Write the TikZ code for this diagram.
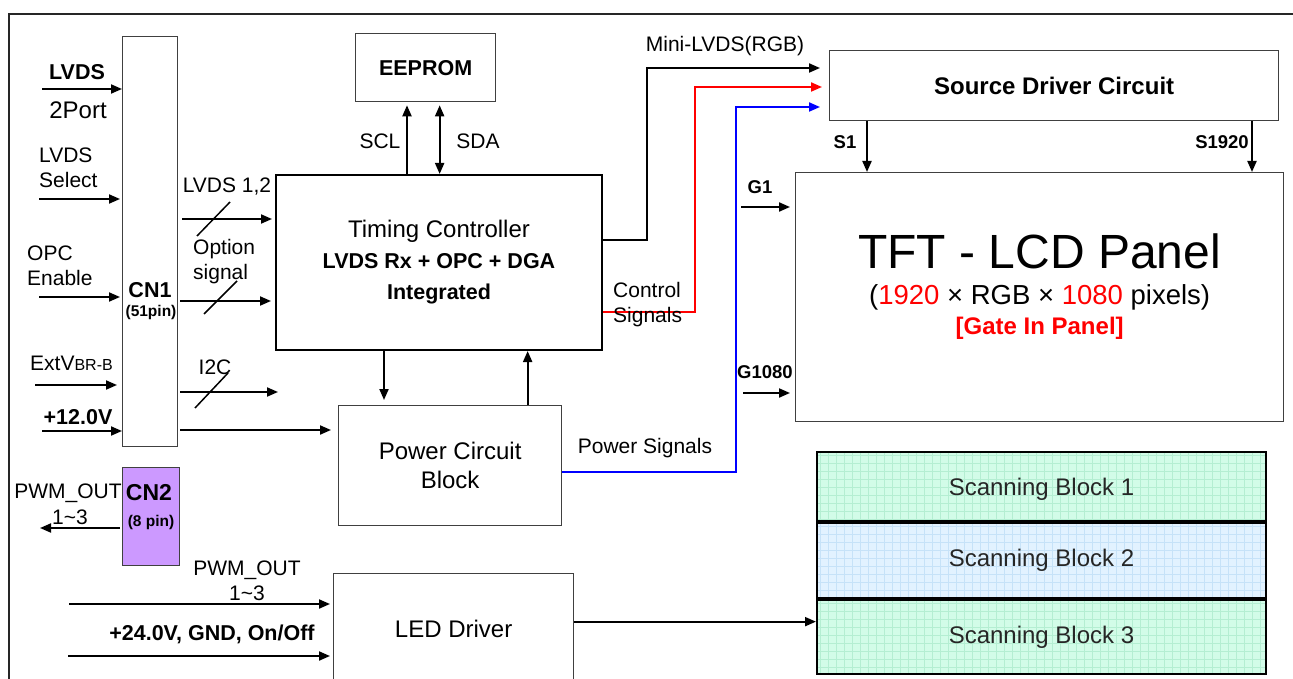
\documentclass[tikz,border=0pt]{standalone}
\usepackage{fontspec}
\setmainfont{Liberation Sans}
\usetikzlibrary{positioning,arrows.meta,calc}
\definecolor{cPinFill}{HTML}{CC99FF}
\definecolor{cScanGreen}{HTML}{D2FCE8}
\definecolor{cScanBlue}{HTML}{E2F2FF}
\definecolor{cGridGreen}{HTML}{B4EED2}
\definecolor{cGridBlue}{HTML}{C6E2F8}
\definecolor{cBoxLine}{HTML}{404040}
\newcommand{\lblfont}{\fontsize{21}{25}\selectfont}
\newcommand{\blkfont}{\fontsize{24}{29}\selectfont}
\newcommand{\blkbold}{\fontsize{24}{29}\selectfont\bfseries}
\newcommand{\boldlbl}{\fontsize{21.5}{26}\selectfont\bfseries}
\newcommand{\pinfont}{\fontsize{15.5}{18}\selectfont\bfseries}
\newcommand{\sigfont}{\fontsize{18.5}{22}\selectfont\bfseries}
\newcommand{\panelfont}{\fontsize{48}{56}\selectfont}

\begin{document}
\begin{tikzpicture}[
  x=1pt, y=-1pt,
  every node/.style={inner sep=0pt},
  blk/.style={draw=cBoxLine, line width=1.3pt, fill=white, anchor=north west},
  scanbox/.style={draw=black, line width=2pt, anchor=north west, minimum width=449pt,
                  font=\blkfont, text=black!85},
  scangreen/.style={scanbox, fill=cScanGreen, path picture={
      \draw[cGridGreen, line width=0.6pt, step=8pt]
        (path picture bounding box.south west) grid (path picture bounding box.north east);}},
  scanblue/.style={scanbox, fill=cScanBlue, path picture={
      \draw[cGridBlue, line width=0.6pt, step=8pt]
        (path picture bounding box.south west) grid (path picture bounding box.north east);}},
  lbl/.style={font=\lblfont},
  arr/.style={-{Triangle[length=11pt,width=9pt]}, line width=2pt},
  dblarr/.style={{Triangle[length=11pt,width=9pt]}-{Triangle[length=11pt,width=9pt]}, line width=2pt},
  busmark/.style={line width=1.5pt},
]
  \useasboundingbox (0,0) rectangle (1293,679);
  % outer frame
  \draw[line width=2pt, black!85] (9,690) -- (9,14) -- (1300,14);

  % blocks
  \node[blk, minimum width=140pt, minimum height=68pt, font=\boldlbl] (eeprom) at (355,33) {EEPROM};
  \node[blk, draw=black, line width=2pt, minimum width=326pt, minimum height=175pt,
        align=center, font=\boldlbl] (tcon) at (275,174)
        {{\blkfont\mdseries Timing Controller}\\[5pt] LVDS Rx + OPC + DGA\\[5pt] Integrated};
  \node[blk, minimum width=223pt, minimum height=120pt, align=center, font=\blkfont] (pcb) at (338,405)
        {Power Circuit\\Block};
  \node[blk, minimum width=240pt, minimum height=110pt, font=\blkfont] (led) at (333,573) {LED Driver};
  \node[blk, minimum width=449pt, minimum height=70pt, font=\blkbold] (sdc) at (829,50) {Source Driver Circuit};
  \node[blk, minimum width=488pt, minimum height=249pt] (tft) at (795,172) {};
  \node[blk, minimum width=55pt, minimum height=410pt] (cn1) at (122,36) {};
  \node[blk, fill=cPinFill, minimum width=57pt, minimum height=98pt] (cn2) at (122,467) {};

  \node[scangreen, minimum height=69pt, text depth=-7pt] (sb1) at (816,451) {Scanning Block 1};
  \node[scanblue, minimum height=75pt, below=0pt of sb1] (sb2) {Scanning Block 2};
  \node[scangreen, minimum height=74pt, below=0pt of sb2] (sb3) {Scanning Block 3};

  % panel text
  \node[font=\panelfont] (tftName) at ($(tft.north)+(0,79)$) {TFT - LCD Panel};
  \node[font=\fontsize{27.5}{31}\selectfont] (tftRes) at ($(tft.north)+(0,125)$)
        {(\textcolor{red}{1920} × RGB × \textcolor{red}{1080} pixels)};
  \node[font=\blkbold, text=red] (tftGip) at ($(tft.north)+(0,156)$) {[Gate In Panel]};

  % connector labels
  \node[font=\boldlbl] (cn1Name) at (150,290) {CN1};
  \node[font=\pinfont] (cn1Pins) at (151,312) {(51pin)};
  \node[font=\fontsize{23}{27}\selectfont\bfseries] (cn2Name) at (149,493) {CN2};
  \node[font=\pinfont] (cn2Pins) at (151,522) {(8 pin)};

  % left inputs
  \node[font=\boldlbl] (lvdsLbl) at (77,72) {LVDS};
  \node[font=\blkfont] (portLbl) at (78,110) {2Port};
  \node[lbl, align=left, anchor=west] (selLbl) at (39,168) {LVDS\\Select};
  \node[lbl, align=left, anchor=west] (opcLbl) at (27,266) {OPC\\Enable};
  \node[lbl, anchor=west] (extLbl) at (30,363) {ExtV{\fontsize{16}{18}\selectfont BR-B}};
  \node[font=\boldlbl] (v12Lbl) at (78,417) {+12.0V};

  \coordinate (lvdsIn) at (42,89);
  \coordinate (selIn) at (39,199);
  \coordinate (opcIn) at (39,297);
  \coordinate (extIn) at (35,385);
  \coordinate (v12In) at (42,431);
  \draw[arr] (lvdsIn) -- (lvdsIn -| cn1.west);
  \draw[arr, shorten >=2pt] (selIn) -- (selIn -| cn1.west);
  \draw[arr, shorten >=2pt] (opcIn) -- (opcIn -| cn1.west);
  \draw[arr, shorten >=5pt] (extIn) -- (extIn -| cn1.west);
  \draw[arr] (v12In) -- (v12In -| cn1.west);

  % CN1 to timing controller / power
  \coordinate (lvdsBus) at (182,219);
  \coordinate (optBus) at (180,301);
  \coordinate (i2cBus) at (180,392);
  \coordinate (i2cEnd) at (278,392);
  \coordinate (v12Bus) at (180,430);
  \draw[arr, shorten >=3pt] (lvdsBus) -- (lvdsBus -| tcon.west);
  \draw[busmark] ($(lvdsBus)+(15,17)$) -- ++(33,-34);
  \draw[arr, shorten >=4pt] (optBus) -- (optBus -| tcon.west);
  \draw[busmark] ($(optBus)+(24,13)$) -- ++(33,-33);
  \draw[arr] (i2cBus) -- (i2cEnd);
  \draw[busmark] ($(i2cBus)+(15,16)$) -- ++(33,-35);
  \draw[arr, shorten >=7pt] (v12Bus) -- (v12Bus -| pcb.west);
  \node[lbl] (lvdsBusLbl) at (227,187) {LVDS 1,2};
  \node[lbl, align=left, anchor=west] (optLbl) at (193,262) {Option\\signal};
  \node[lbl] (i2cLbl) at (215,367) {I2C};

  % eeprom bus
  \coordinate (sclPt) at ($(tcon.north)+(-32,2)$);
  \coordinate (sdaPt) at ($(eeprom.south)+(14,3)$);
  \draw[arr, shorten >=3pt] (sclPt) -- (sclPt |- eeprom.south);
  \draw[dblarr] (sdaPt) -- (sdaPt |- tcon.north);
  \node[lbl] (sclLbl) at (380,141) {SCL};
  \node[lbl] (sdaLbl) at (478,141) {SDA};

  % timing controller <-> power circuit
  \coordinate (tcDown) at ($(tcon.south)+(-55,0)$);
  \coordinate (pcUp) at ($(pcb.north)+(77.5,0)$);
  \draw[arr, shorten >=5pt] (tcDown) -- (tcDown |- pcb.north);
  \draw[arr] (pcUp) -- (pcUp |- tcon.south);

  % signals to source driver
  \coordinate (miniOut) at ($(tcon.north east)+(0,66)$);
  \coordinate (ctrlOut) at ($(tcon.south east)+(0,-39)$);
  \coordinate (pwrOut) at ($(pcb.east)+(0,6)$);
  \draw[arr, shorten >=9pt] (miniOut) -- ++(44,0) |- ($(sdc.north west)+(0,18)$);
  \draw[arr, red, shorten >=7pt] (ctrlOut) -- ++(92,0) |- ($(sdc.north west)+(0,37)$);
  \draw[arr, blue, shorten >=9pt] (pwrOut) -- ++(174,0) |- ($(sdc.north west)+(0,57)$);
  \node[lbl] (miniLbl) at (725,46) {Mini-LVDS(RGB)};
  \node[lbl, align=left, anchor=west] (ctrlLbl) at (613,305) {Control\\Signals};
  \node[lbl] (pwrLbl) at (645,448) {Power Signals};

  % source / gate lines
  \coordinate (s1Pt) at ($(sdc.south west)+(38,0)$);
  \coordinate (s1920Pt) at ($(sdc.south west)+(423,0)$);
  \draw[arr] (s1Pt) -- (s1Pt |- tft.north);
  \draw[arr] (s1920Pt) -- (s1920Pt |- tft.north);
  \node[font=\sigfont] (s1Lbl) at (845,142) {S1};
  \node[font=\sigfont] (s1920Lbl) at (1222,142) {S1920};
  \coordinate (g1Pt) at (741,207);
  \coordinate (g1080Pt) at (743,393);
  \draw[arr, shorten >=5pt] (g1Pt) -- (g1Pt -| tft.west);
  \draw[arr, shorten >=5pt] (g1080Pt) -- (g1080Pt -| tft.west);
  \node[font=\sigfont] (g1Lbl) at (760,187) {G1};
  \node[font=\sigfont] (g1080Lbl) at (765,372) {G1080};

  % CN2 output
  \coordinate (pwmOut) at (40,528);
  \draw[arr, shorten <=2pt] (pwmOut -| cn2.west) -- (pwmOut);
  \node[lbl] (pwmOutLbl) at (68,493) {PWM\_OUT};
  \node[lbl] (pwmOutNum) at (70,517) {1\textasciitilde3};

  % LED driver
  \coordinate (pwmIn) at (69,604);
  \coordinate (v24In) at (68,656);
  \draw[arr, shorten >=3pt] (pwmIn) -- (pwmIn -| led.west);
  \draw[arr, shorten >=3pt] (v24In) -- (v24In -| led.west);
  \node[lbl] (pwmInLbl) at (247,570) {PWM\_OUT};
  \node[lbl] (pwmInNum) at (247,593) {1\textasciitilde3};
  \node[font=\boldlbl] (v24Lbl) at (212,634) {+24.0V, GND, On/Off};
  \coordinate (ledOut) at ($(led.east)+(0,-7)$);
  \draw[arr] (ledOut) -- (ledOut -| sb3.west);
\end{tikzpicture}
\end{document}
